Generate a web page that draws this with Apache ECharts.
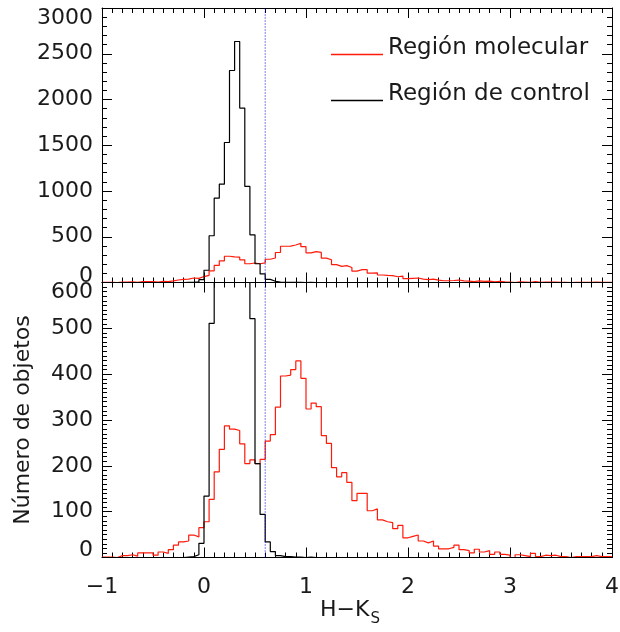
<!DOCTYPE html>
<html>
<head>
<meta charset="utf-8">
<script src="https://cdn.jsdelivr.net/npm/echarts@6.0.0/dist/echarts.min.js"></script>
<style>
html,body{margin:0;padding:0;background:#fff;}
#chart{width:620px;height:632px;}
</style>
</head>
<body>
<div id="chart"></div>
<script>
// Histogram bins: 100 bins of width 0.05 from H-Ks = -1 to 4
const binStart = -1;
const binWidth = 0.05;
const seriesNames = ['Región molecular', 'Región de control'];
// Región molecular (red)
const redCounts = [
  1, 1, 0, 4, 4, 6, 3, 10, 10, 10,
  5, 12, 9, 17, 27, 34, 36, 49, 45, 65,
  78, 127, 187, 236, 287, 280, 277, 248, 205, 213,
  205, 214, 254, 268, 328, 396, 398, 410, 429, 391,
  324, 337, 329, 266, 249, 196, 176, 185, 164, 124,
  140, 140, 102, 106, 82, 78, 76, 63, 70, 43,
  46, 49, 36, 32, 36, 25, 19, 19, 22, 27,
  17, 15, 10, 18, 12, 15, 7, 12, 7, 5,
  0, 6, 4, 2, 9, 2, 5, 4, 5, 2,
  2, 0, 2, 2, 2, 2, 4, 2, 2, 2
];
// Región de control (black)
const blackCounts = [
  0, 0, 0, 0, 0, 0, 0, 0, 0, 0,
  0, 0, 0, 0, 0, 0, 1, 2, 6, 31,
  134, 511, 922, 1075, 1530, 2317, 2634, 1906, 1050, 521,
  205, 94, 34, 13, 4, 2, 2, 1, 1, 0,
  1, 0, 0, 0, 0, 0, 0, 0, 0, 0,
  0, 0, 0, 0, 0, 0, 0, 0, 0, 0,
  0, 0, 0, 0, 0, 0, 0, 0, 0, 0,
  0, 0, 0, 0, 0, 0, 0, 0, 0, 0,
  0, 0, 0, 0, 0, 0, 0, 0, 0, 0,
  0, 0, 0, 0, 0, 0, 0, 0, 0, 0
];
const cutoffHK = 0.6;
const xRange = [-1, 4];
const topYRange = [0, 3000];
const bottomYRange = [0, 600];

function toSteps(counts) {
  const pts = counts.map((v, i) => [+(binStart + i * binWidth).toFixed(3), v]);
  pts.push([+(binStart + counts.length * binWidth).toFixed(3), counts[counts.length - 1]]);
  return pts;
}
const redSteps = toSteps(redCounts);
const blackSteps = toSteps(blackCounts);

const FONT = 'DejaVu Sans';
const TXT = '#1a1a1a';
const RED = '#ff1a0a';
const FS = 22;

function xAxisDef(grid, pos, labels) {
  return {
    type: 'value', gridIndex: grid, position: pos,
    min: xRange[0], max: xRange[1], interval: 1,
    axisLine: { show: true, onZero: false, lineStyle: { color: '#000', width: 1 } },
    axisTick: { show: true, inside: true, length: 10, lineStyle: { color: '#000' } },
    minorTick: { show: true, splitNumber: 10, length: 5, lineStyle: { color: '#000' } },
    splitLine: { show: false },
    axisLabel: {
      show: labels, margin: 19, fontSize: FS, fontFamily: FONT, color: TXT,
      alignMinLabel: 'center', alignMaxLabel: 'center', hideOverlap: false,
      formatter: v => String(v).replace('-', '\u2212')
    }
  };
}
function yAxisDef(grid, pos, range, interval, minorSplit, labels, padMax, padMin) {
  const rich = {
    mx: { fontSize: FS, fontFamily: FONT, color: TXT, padding: [padMax, 0, 0, 0] },
    mn: { fontSize: FS, fontFamily: FONT, color: TXT, padding: [0, 0, padMin, 0] }
  };
  return {
    type: 'value', gridIndex: grid, position: pos,
    min: range[0], max: range[1], interval: interval,
    axisLine: { show: true, onZero: false, lineStyle: { color: '#000', width: 1 } },
    axisTick: { show: true, inside: true, length: 10, lineStyle: { color: '#000' } },
    minorTick: { show: true, splitNumber: minorSplit, length: 5, lineStyle: { color: '#000' } },
    splitLine: { show: false },
    axisLabel: {
      show: labels, margin: 9, fontSize: FS, fontFamily: FONT, color: TXT, hideOverlap: false,
      rich: rich,
      formatter: v => v === range[1] ? '{mx|' + v + '}' : (v === range[0] ? '{mn|' + v + '}' : String(v))
    }
  };
}

const xAxes = [
  xAxisDef(0, 'bottom', false),
  xAxisDef(0, 'top', false),
  xAxisDef(1, 'bottom', true),
  xAxisDef(1, 'top', false)
];
xAxes[2].name = '{a|H\u2212K}{b|S}';
xAxes[2].nameLocation = 'middle';
xAxes[2].nameGap = 41;
xAxes[2].nameTextStyle = {
  fontFamily: FONT, color: TXT,
  rich: {
    a: { fontSize: FS, fontFamily: FONT, color: TXT, lineHeight: 26, verticalAlign: 'top' },
    b: { fontSize: 15, fontFamily: FONT, color: TXT, lineHeight: 26, verticalAlign: 'bottom', padding: [0, 14, -1, 1] }
  }
};

const yAxes = [
  yAxisDef(0, 'left', topYRange, 500, 5, true, 20, 12),
  yAxisDef(0, 'right', topYRange, 500, 5, false, 0, 0),
  yAxisDef(1, 'left', bottomYRange, 100, 10, true, 20, 15),
  yAxisDef(1, 'right', bottomYRange, 100, 10, false, 0, 0)
];
yAxes[2].name = 'Número de objetos';
yAxes[2].nameLocation = 'middle';
yAxes[2].nameGap = 68;
yAxes[2].nameTextStyle = { fontSize: 22, fontFamily: FONT, color: TXT };

function histSeries(name, data, color, xi, yi) {
  return {
    name: name, type: 'line', step: 'end', data: data,
    xAxisIndex: xi, yAxisIndex: yi,
    symbol: 'none', showSymbol: false, animation: false, clip: true,
    lineStyle: { color: color, width: 1.2 },
    itemStyle: { color: color }
  };
}
function cutSeries(xi, yi, range) {
  return {
    name: 'cutoff', type: 'line', data: [[cutoffHK, range[0]], [cutoffHK, range[1]]],
    xAxisIndex: xi, yAxisIndex: yi, symbol: 'none', silent: true, animation: false,
    lineStyle: { color: '#0000dd', width: 1, type: [1, 2] }
  };
}

const chart = echarts.init(document.getElementById('chart'), null, { renderer: 'canvas' });
chart.setOption({
  backgroundColor: '#fff',
  animation: false,
  grid: [
    { left: 102, right: 8, top: 8, height: 274.5, outerBoundsMode: 'none', containLabel: false },
    { left: 102, right: 8, top: 282.5, height: 275, outerBoundsMode: 'none', containLabel: false }
  ],
  legend: {
    data: seriesNames,
    orient: 'vertical', left: 326, top: 32,
    itemWidth: 52, itemHeight: 1.5, itemGap: 11,
    icon: 'rect',
    selectedMode: false,
    formatter: n => '{t|' + n + '}',
    textStyle: {
      fontSize: 23, fontFamily: FONT, color: TXT,
      rich: { t: { fontSize: 23, fontFamily: FONT, color: TXT, lineHeight: 26, padding: [0, 0, 12, 0] } }
    }
  },
  xAxis: xAxes,
  yAxis: yAxes,
  series: [
    histSeries(seriesNames[0], redSteps, RED, 0, 0),
    histSeries(seriesNames[1], blackSteps, '#000', 0, 0),
    histSeries(seriesNames[0], redSteps, RED, 2, 2),
    histSeries(seriesNames[1], blackSteps, '#000', 2, 2),
    cutSeries(0, 0, topYRange),
    cutSeries(2, 2, bottomYRange)
  ]
});
</script>
</body>
</html>
